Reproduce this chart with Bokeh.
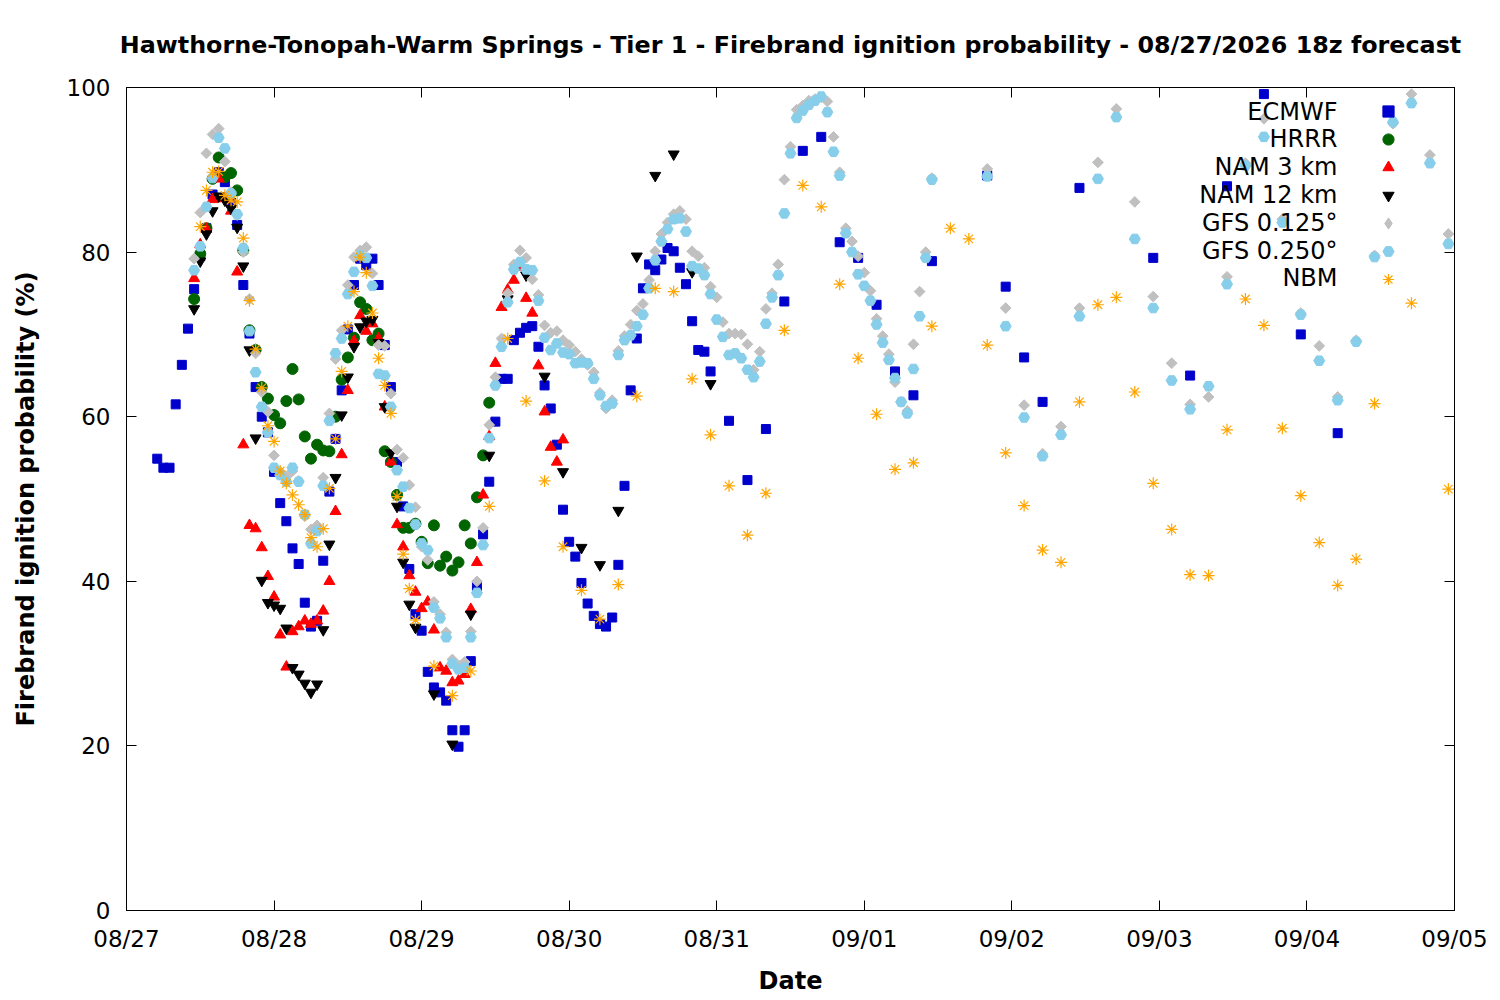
import math
import pandas as pd
from bokeh.plotting import figure
from bokeh.models import (Range1d, DaysTicker, DatetimeTickFormatter, DatetimeAxis,
                          LinearAxis, FixedTicker, Legend, LegendItem, Label,
                          CustomJSTickFormatter)
from bokeh.embed import file_html
from bokeh.resources import INLINE

# ---------------- data (hours after 08/27 00:00, probability %) ----------------
BASE = pd.Timestamp("2026-08-27 00:00")
DAY_LABELS = ["08/27", "08/28", "08/29", "08/30", "08/31", "09/01", "09/02", "09/03", "09/04", "09/05"]
Y_TICKS = [0, 20, 40, 60, 80, 100]
TITLE = ("Hawthorne-Tonopah-Warm Springs - Tier 1 - Firebrand ignition probability"
         " - 08/27/2026 18z forecast")

ecmwf_hours = list(range(5, 96)) + list(range(98, 132, 3)) + [140, 143, 146, 149, 155, 167, 173, 179, 185, 191, 197]
ecmwf_vals = [
    54.9, 53.8, 53.8, 61.5, 66.3, 70.7, 75.5, 79.5, 82.9, 87.0,
    89.7, 88.5, 86.0, 83.3, 76.0, 70.1, 63.6, 60.0, 58.1, 53.3,
    49.5, 47.3, 44.0, 42.1, 37.4, 34.5, 35.2, 42.5, 50.9, 57.3,
    63.2, 70.6, 76.0, 79.2, 78.4, 79.2, 76.0, 68.7, 63.6, 54.5,
    49.1, 41.5, 36.0, 34.0, 29.0, 27.1, 26.5, 25.5, 21.9, 19.9,
    21.9, 30.3, 39.4, 45.7, 52.1, 59.4, 64.6, 64.6, 69.3, 70.2,
    70.8, 71.0, 68.5, 63.8, 61.0, 56.6, 48.7, 44.8, 43.0, 39.8,
    37.3, 35.8, 34.8, 34.5, 35.6, 42.0, 51.6, 63.2, 69.5, 75.6,
    78.5, 77.8, 79.1, 80.5, 80.1, 78.1, 76.1, 71.6, 68.1, 67.9,
    65.5,
    59.5, 52.3, 58.5, 74.0, 92.3, 94.0, 81.2, 79.3, 73.6, 65.5, 62.6, 78.9,
    89.3, 75.8, 67.2, 61.8, 87.8, 79.3, 65.0, 88.0, 99.2, 70.0, 58.0,
]

hrrr_hours = list(range(11, 60))
hrrr_vals = [
    74.3, 79.8, 82.9, 88.9, 91.5, 89.1, 89.6, 87.5, 80.2, 70.5,
    68.1, 63.6, 62.2, 60.2, 59.2, 61.9, 65.8, 62.1, 57.6, 54.9,
    56.6, 55.9, 55.8, 60.0, 64.5, 67.2, 69.6, 73.9, 73.1, 69.3,
    70.1, 55.8, 54.5, 50.5, 46.5, 46.5, 47.0, 44.8, 42.2, 46.8,
    41.9, 43.0, 41.3, 42.3, 46.8, 44.6, 50.2, 55.3, 61.7,
]

nam3_hours = list(range(11, 72))
nam3_vals = [
    76.8, 80.9, 82.8, 86.4, 88.9, 86.5, 85.0, 77.6, 56.6, 46.8,
    46.4, 44.1, 40.6, 38.1, 33.5, 29.6, 33.9, 34.5, 35.2, 34.8,
    35.2, 36.4, 40.0, 48.5, 55.4, 63.2, 69.2, 72.3, 70.4, 71.3,
    69.5, 61.2, 54.5, 46.9, 44.2, 40.7, 38.7, 36.7, 37.5, 34.1,
    29.5, 29.1, 27.7, 27.9, 28.7, 36.6, 42.3, 50.5, 57.6, 66.5,
    73.3, 75.4, 76.6, 78.2, 74.4, 72.6, 66.2, 60.6, 56.3, 54.5, 57.2,
]

nam12_hours = list(range(11, 48)) + list(range(50, 96, 3))
nam12_vals = [
    73.1, 78.9, 82.2, 85.0, 86.8, 86.3, 85.3, 83.0, 78.3, 68.1,
    57.4, 40.1, 37.4, 37.1, 36.7, 34.3, 29.5, 28.7, 27.6, 26.5,
    27.5, 34.1, 44.5, 52.6, 60.2, 64.8, 68.5, 70.9, 71.6, 71.8,
    69.0, 61.2, 55.6, 49.1, 42.3, 37.2, 34.4,
    26.3, 20.2, 36.0, 55.3, 74.3, 77.2, 64.9, 53.3, 44.1, 42.0,
    48.6, 79.5, 89.3, 91.9, 77.6, 64.0,
]

gfs_hours = list(range(11, 132)) + list(range(140, 216, 3))
gfs125_vals = [
    79.2, 84.8, 92.0, 94.3, 95.0, 91.0, 87.3, 84.5, 80.0, 74.3,
    67.7, 63.0, 60.6, 55.3, 53.3, 52.7, 53.4, 52.2, 47.9, 46.3,
    46.8, 52.6, 60.4, 67.0, 70.5, 76.0, 79.4, 80.2, 80.6, 77.4,
    68.7, 68.6, 62.8, 56.0, 55.0, 51.7, 49.0, 44.2, 42.6, 37.5,
    36.0, 33.8, 30.5, 29.8, 30.2, 33.9, 40.0, 46.5, 59.0, 64.8,
    69.5, 75.0, 78.5, 80.2, 79.3, 76.7, 74.8, 71.1, 70.2, 70.4,
    69.3, 68.7, 67.9, 67.0, 66.3, 65.4, 62.9, 61.0, 62.0, 68.0,
    69.8, 71.2, 72.9, 73.7, 76.6, 80.1, 82.2, 83.6, 84.6, 85.0,
    84.0, 80.1, 79.5, 78.1, 75.8, 74.5, 71.5, 70.1, 70.1, 70.0,
    68.8, 65.7, 67.9, 73.1, 75.0, 78.5, 88.8, 92.8, 97.3, 97.8,
    98.4, 98.6, 98.8, 98.3, 94.0, 89.7, 82.9, 81.3, 79.5, 77.5,
    75.3, 71.9, 69.8, 67.6, 64.2, 61.8, 60.7, 68.8, 75.2, 80.0, 89.0,
    90.1, 73.2, 61.4, 55.5, 58.8, 73.2, 90.9, 97.4, 86.1, 74.6,
    66.5, 61.5, 62.4, 77.0, 90.8, 96.2, 84.0, 72.6, 68.6, 62.4,
    69.3, 79.6, 95.6, 99.2, 91.8, 82.2,
]
gfs250_vals = [
    77.8, 80.7, 85.5, 89.0, 93.9, 92.6, 87.1, 84.6, 80.5, 70.4,
    65.4, 61.2, 58.1, 53.8, 52.9, 52.1, 53.8, 52.1, 48.1, 44.6,
    46.1, 51.6, 59.5, 67.7, 69.5, 74.9, 77.6, 79.6, 79.3, 75.9,
    65.2, 65.0, 61.2, 53.5, 51.5, 48.9, 46.9, 44.6, 43.8, 36.8,
    35.5, 33.2, 30.0, 29.3, 29.5, 33.2, 38.6, 44.4, 57.4, 63.8,
    68.5, 73.9, 77.9, 78.8, 77.9, 77.8, 74.1, 69.6, 68.1, 68.9,
    67.8, 67.6, 66.5, 66.6, 66.5, 64.6, 62.6, 61.3, 61.6, 67.5,
    69.3, 69.9, 71.0, 72.4, 75.6, 79.0, 81.3, 82.8, 84.0, 84.1,
    82.5, 78.3, 78.0, 77.2, 74.9, 71.8, 69.7, 67.5, 67.7, 67.1,
    65.7, 64.8, 66.7, 71.3, 74.5, 77.2, 84.7, 92.0, 96.3, 97.2,
    97.9, 98.4, 98.9, 97.0, 92.2, 89.3, 82.3, 80.0, 77.3, 75.9,
    74.1, 71.2, 69.0, 66.9, 64.7, 61.8, 60.4, 65.8, 72.2, 79.3, 88.8,
    89.2, 71.0, 59.9, 55.2, 57.8, 72.2, 88.9, 96.4, 81.6, 73.2,
    64.4, 60.9, 63.7, 76.1, 90.5, 94.0, 83.6, 72.4, 66.8, 62.0,
    69.1, 79.4, 95.8, 98.1, 90.8, 81.0,
]

nbm_hours = list(range(12, 48)) + list(range(50, 204, 3)) + [209, 215]
nbm_vals = [
    83.1, 87.5, 89.7, 89.8, 86.9, 86.3, 86.1, 81.7, 74.1, 68.2,
    63.5, 58.9, 57.0, 53.4, 51.9, 50.5, 49.3, 48.1, 45.3, 44.2,
    46.4, 51.3, 57.3, 65.5, 71.0, 75.2, 79.4, 77.5, 72.6, 67.1,
    63.8, 60.4, 50.3, 43.3, 39.1, 35.3,
    29.7, 26.1, 29.1, 49.1, 69.5, 61.9, 52.2, 44.2, 38.9, 35.4,
    39.6, 62.5, 75.6, 75.2, 64.6, 57.8, 51.6, 45.6, 50.7, 70.5,
    88.1, 85.5, 76.1, 67.1, 60.3, 53.6, 54.4, 71.0, 82.9, 81.6,
    68.7, 55.6, 49.2, 43.8, 42.3, 61.8, 73.6, 74.5, 63.0, 51.9,
    46.3, 40.8, 40.7, 58.4, 74.3, 71.1, 58.6, 50.4, 44.7, 39.5,
    42.7, 61.6,
    73.8, 51.2,
]

SERIES = [
    # name, hours, values, marker, colour, size, angle, legend marker
    ("ECMWF", ecmwf_hours, ecmwf_vals, "square", "#0000cd", 9, 0.0, None),
    ("HRRR", hrrr_hours, hrrr_vals, "circle", "#006400", 11, 0.0, None),
    ("NAM 3 km", nam3_hours, nam3_vals, "triangle", "#ff0000", 11, 0.0, None),
    ("NAM 12 km", nam12_hours, nam12_vals, "inverted_triangle", "#000000", 11, 0.0, None),
    ("GFS 0.125°", gfs_hours, gfs125_vals, "square", "#c0c0c0", 7.6, math.pi / 4, "diamond"),
    ("GFS 0.250°", gfs_hours, gfs250_vals, "hex", "#87ceeb", 11, 0.0, None),
    ("NBM", nbm_hours, nbm_vals, "asterisk", "#ffa500", 12, 0.0, None),
]

FONT = "DejaVu Sans"


def to_time(hours):
    return [BASE + pd.Timedelta(hours=h) for h in hours]


p = figure(width=1500, height=1000, output_backend="svg", toolbar_location=None,
           x_axis_type="datetime",
           x_range=Range1d(BASE, BASE + pd.Timedelta(days=len(DAY_LABELS) - 1)),
           y_range=Range1d(Y_TICKS[0], Y_TICKS[-1]),
           min_border_left=126, min_border_right=46, min_border_top=85, min_border_bottom=90)

p.background_fill_color = "white"
p.border_fill_color = "white"
p.outline_line_color = "black"
p.outline_line_width = 1
p.grid.visible = False

day_ticker = DaysTicker(days=list(range(1, 32)))
fmt = DatetimeTickFormatter(days="%m/%d", months="%m/%d", hours="%m/%d", years="%m/%d")
blank = CustomJSTickFormatter(code="return '';")

xa = p.xaxis[0]
xa.ticker = day_ticker
xa.formatter = fmt
ya = p.yaxis[0]
ya.ticker = FixedTicker(ticks=Y_TICKS)

for ax in (xa, ya):
    ax.major_tick_in = 10
    ax.major_tick_out = 0
    ax.minor_tick_line_color = None
    ax.major_label_text_font = FONT
    ax.major_label_text_font_size = "23px"
    ax.major_label_text_color = "black"
    ax.axis_line_color = "black"
    ax.major_tick_line_color = "black"
    ax.axis_label_text_font = FONT
    ax.axis_label_text_font_size = "24px"
    ax.axis_label_text_font_style = "bold"
    ax.axis_label_text_color = "black"

xa.axis_label = "Date"
xa.major_label_standoff = 15
xa.axis_label_standoff = 12
ya.axis_label = "Firebrand ignition probability (%)"
ya.major_label_standoff = 16
ya.axis_label_standoff = 24

top = DatetimeAxis(ticker=day_ticker, formatter=blank)
right = LinearAxis(ticker=FixedTicker(ticks=Y_TICKS), formatter=blank)
for ax in (top, right):
    ax.major_tick_in = 10
    ax.major_tick_out = 0
    ax.minor_tick_line_color = None
    ax.major_label_standoff = 0
    ax.axis_line_color = "black"
p.add_layout(top, "above")
p.add_layout(right, "right")

p.title.text = TITLE
p.title.align = "center"
p.title.text_font = FONT
p.title.text_font_size = "23.8px"
p.title.text_font_style = "bold"
p.title.text_color = "black"
p.title.standoff = 57

items = []
for name, hours, vals, marker, color, size, angle, leg_marker in SERIES:
    kw = dict(line_color=color, fill_color=color)
    if marker == "asterisk":
        kw = dict(line_color=color, line_width=1.2)
    r = p.scatter(to_time(hours), vals, marker=marker, size=size, angle=angle, **kw)
    if leg_marker is not None:
        # key-only renderer (its single value is NaN, so nothing is drawn in the plot)
        r = p.scatter(to_time(hours[:1]), [float("nan")], marker=leg_marker, size=size, **kw)
    items.append(LegendItem(label=" ", renderers=[r]))

# legend: symbols via Bokeh Legend (right), names as right-aligned labels (left)
ROW = 27.8
legend = Legend(items=items, location=(1248, 617), orientation="vertical",
                glyph_width=28, glyph_height=28, spacing=0, padding=0, margin=0,
                label_text_font_size="1px", label_width=0, label_height=0, label_standoff=0,
                border_line_alpha=0, background_fill_alpha=0)
p.add_layout(legend)

for i, (name, *_rest) in enumerate(SERIES):
    p.add_layout(Label(x=1211, y=799 - i * ROW, x_units="screen", y_units="screen",
                       text=name, text_align="right", text_baseline="middle",
                       text_font=FONT, text_font_size="24px", text_color="black"))

open("out.html", "w").write(file_html(p, INLINE))
